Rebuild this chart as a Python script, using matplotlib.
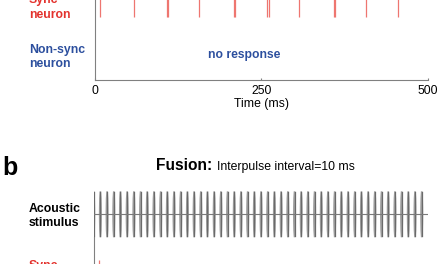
import numpy as np
import matplotlib
matplotlib.use("Agg")
import matplotlib.pyplot as plt

plt.rcParams['font.family'] = ['Liberation Sans', 'DejaVu Sans']

# data
sync_spikes_a = [7, 58, 108, 110, 157, 209, 211, 259, 261, 306, 359, 361, 408, 456]
sync_spikes_b = [8]
pulse_times = [0, 10, 20, 30, 40, 50, 60, 70, 80, 90,
               100, 110, 120, 130, 140, 150, 160, 170, 180, 190,
               200, 210, 220, 230, 240, 250, 260, 270, 280, 290,
               300, 310, 320, 330, 340, 350, 360, 370, 380, 390,
               400, 410, 420, 430, 440, 450, 460, 470, 480, 490]
xticks = [0, 250, 500]

RED = '#e3322d'
SPIKE = '#ee7670'
BLUE = '#2c4f9e'
AXC = '#808080'
W, H = 440, 264

fig = plt.figure(figsize=(4.4, 2.64), dpi=100)

def px(x0, y_top, x1, y_bot):
    return [x0 / W, 1 - y_bot / H, (x1 - x0) / W, (y_bot - y_top) / H]

# panel a: raster
ax = fig.add_axes(px(95, -30, 427.7, 80))
ax.set_xlim(0, 500)
ax.set_ylim(0, 4)
ax.eventplot(sync_spikes_a, lineoffsets=2.9, linelengths=1.2,
             colors=SPIKE, linewidths=0.9)
for s in ['top', 'right']:
    ax.spines[s].set_visible(False)
for s in ['left', 'bottom']:
    ax.spines[s].set_color(AXC)
    ax.spines[s].set_linewidth(0.8)
ax.set_yticks([])
ax.set_xticks(xticks)
ax.tick_params(axis='x', direction='in', length=1.5, color=AXC,
               labelsize=8.8, pad=3.8)
ax.set_xlabel('Time (ms)', fontsize=8.8, labelpad=0.3)
ax.text(224, 0.91, 'no response', color=BLUE, fontsize=8.7,
        fontweight='bold', ha='center', va='center')

fig.text(29 / W, 1 - 7.5 / H, 'Sync\nneuron', color=RED, fontsize=8.8,
         fontweight='bold', ha='left', va='center', linespacing=1.3)
fig.text(29 / W, 1 - 57 / H, 'Non-sync\nneuron', color=BLUE, fontsize=8.8,
         fontweight='bold', ha='left', va='center', linespacing=1.3)

# panel b
fig.text(2 / W, 1 - 175 / H, 'b', fontsize=18, fontweight='bold',
         ha='left', va='baseline')
fig.text(155.7 / W, 1 - 170 / H, 'Fusion:', fontsize=11.2,
         fontweight='bold', ha='left', va='baseline')
fig.text(217.3 / W, 1 - 170 / H, 'Interpulse interval=10 ms',
         fontsize=8.85, ha='left', va='baseline')

axb = fig.add_axes(px(93.7, 191.3, 428.4, 306.3))
axb.set_xlim(0, 500)
axb.set_ylim(-4, 1)
axb.axis('off')
axb.plot([0, 0], [-1, -4], color=AXC, lw=0.8, clip_on=False)

# bar-like pulses, slightly tapered
yy = np.array([-1, -0.7, -0.3, 0, 0.3, 0.7, 1])
hw = np.array([1.2, 1.9, 2.2, 2.3, 2.2, 1.9, 1.2])
for t in pulse_times:
    axb.fill(np.r_[t - hw, (t + hw)[::-1]], np.r_[yy, yy[::-1]],
             color='#a0a0a0', lw=0)
    axb.plot([t, t], [-0.95, 0.95], color='#6a6a6a', lw=0.9)
axb.plot([-1, 500], [0, 0], color='#7a7a7a', lw=0.8)

axb.eventplot(sync_spikes_b, lineoffsets=-2.6, linelengths=1.2,
              colors=SPIKE, linewidths=0.9)
fig.text(29 / W, 1 - 259.5 / H, 'Sync\nneuron', color=RED, fontsize=8.8,
         fontweight='bold', ha='left', va='top', linespacing=1.3)
fig.text(29 / W, 1 - 216 / H, 'Acoustic\nstimulus', color='black',
         fontsize=8.8, fontweight='bold', ha='left', va='center',
         linespacing=1.3)

fig.savefig('out.png', dpi=100)
